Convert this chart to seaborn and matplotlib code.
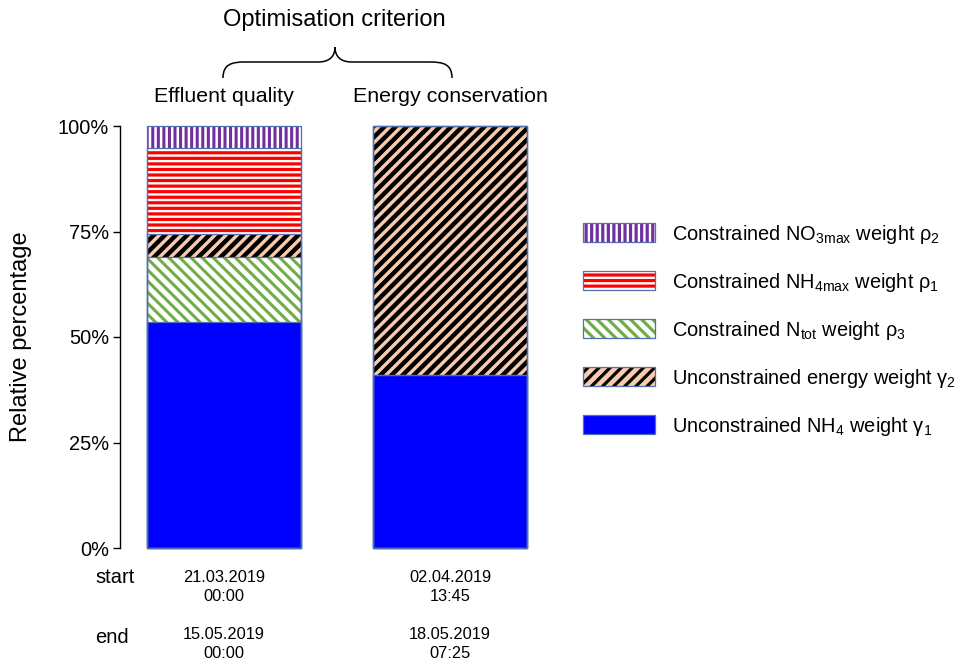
import numpy as np
import pandas as pd
import seaborn as sns
import matplotlib.pyplot as plt
from matplotlib.patches import Patch, Rectangle, PathPatch
from matplotlib.path import Path
from matplotlib.legend_handler import HandlerTuple

# Daten
criteria = ["Effluent quality", "Energy conservation"]
start_dates = ["21.03.2019", "02.04.2019"]
start_times = ["00:00", "13:45"]
end_dates = ["15.05.2019", "18.05.2019"]
end_times = ["00:00", "07:25"]

# Anteile in %, von unten nach oben gestapelt
nh4_w = [53.6, 41.0]
ntot_w = [15.4, 0.0]
energy_w = [5.4, 59.0]
nh4max_w = [20.4, 0.0]
no3max_w = [5.2, 0.0]

y_ticks = [0, 25, 50, 75, 100]

lab_nh4 = r"Unconstrained NH$_\mathregular{4}$ weight γ$_\mathregular{1}$"
lab_ntot = r"Constrained N$_\mathregular{tot}$ weight ρ$_\mathregular{3}$"
lab_energy = r"Unconstrained energy weight γ$_\mathregular{2}$"
lab_nh4max = r"Constrained NH$_\mathregular{4max}$ weight ρ$_\mathregular{1}$"
lab_no3max = r"Constrained NO$_\mathregular{3max}$ weight ρ$_\mathregular{2}$"

# Stil pro Segment (unten -> oben)
segments = [nh4_w, ntot_w, energy_w, nh4max_w, no3max_w]
seg_labels = [lab_nh4, lab_ntot, lab_energy, lab_nh4max, lab_no3max]
faces = ["#0000ff", "white", "#f8cbad", "white", "white"]
hatches = ["", "\\\\\\", "///", "---", "|||"]
hcolors = ["#0000ff", "#70ad47", "black", "#ff0000", "#7030a0"]
hatch_lw = [1.0, 2.2, 3.2, 2.3, 2.2]
edge = "#4f6fae"

sns.set_theme(style="white")
plt.rcParams["font.family"] = ["Liberation Sans", "DejaVu Sans"]
plt.rcParams["hatch.linewidth"] = 2.3
plt.rcParams["text.color"] = "black"
plt.rcParams["axes.labelcolor"] = "black"
plt.rcParams["ytick.color"] = "black"


def set_hlw(patch, lw):
    if hasattr(patch, "set_hatch_linewidth"):
        patch.set_hatch_linewidth(lw)
    return patch


fig = plt.figure(figsize=(9.72, 6.63), dpi=100)
ax = fig.add_axes([120 / 972, 115 / 663, 440 / 972, 422 / 663])

tops = np.cumsum(np.array(segments), axis=0)
df = pd.DataFrame({"criterion": criteria})

# gestapelte Balken: von oben nach unten überzeichnen
for i in reversed(range(len(segments))):
    df["top"] = tops[i]
    n_before = len(ax.patches)
    sns.barplot(data=df, x="criterion", y="top", color=faces[i], hatch=hatches[i],
                edgecolor=hcolors[i], linewidth=0, saturation=1, width=0.68,
                errorbar=None, ax=ax)
    for p in ax.patches[n_before:]:
        set_hlw(p, hatch_lw[i])

# Umrandungen
for p in list(ax.patches):
    ax.add_patch(Rectangle(p.get_xy(), p.get_width(), p.get_height(), fill=False,
                           edgecolor=edge, lw=0.9, clip_on=False))

ax.set_xlim(-0.46, 1.487)
ax.set_ylim(0, 100)
ax.set_yticks(y_ticks)
ax.set_yticklabels([f"{v}%" for v in y_ticks])
ax.set_xticks([])
ax.set_xlabel("")
ax.set_ylabel("Relative percentage", fontsize=17)
ax.yaxis.set_label_coords(-0.2, 0.5)
ax.tick_params(axis="y", left=True, length=5, width=1, color="black",
               labelsize=14.4, pad=3)
sns.despine(ax=ax, bottom=True)
ax.spines["left"].set_color("black")
ax.spines["left"].set_linewidth(1)

# Beschriftungen oben und unten
trans = ax.get_xaxis_transform()
for i, c in enumerate(criteria):
    ax.text(i, 1.069, c, transform=trans, ha="center", va="center", fontsize=15.4)
    ax.text(i, -0.071, start_dates[i], transform=trans, ha="center", va="center", fontsize=11.8)
    ax.text(i, -0.116, start_times[i], transform=trans, ha="center", va="center", fontsize=11.8)
    ax.text(i, -0.206, end_dates[i], transform=trans, ha="center", va="center", fontsize=11.8)
    ax.text(i, -0.249, end_times[i], transform=trans, ha="center", va="center", fontsize=11.8)
ax.text(-0.482, -0.071, "start", transform=trans, ha="center", va="center", fontsize=14.5)
ax.text(-0.496, -0.213, "end", transform=trans, ha="center", va="center", fontsize=14.5)
ax.text(0.49, 1.251, "Optimisation criterion", transform=trans, ha="center", va="center", fontsize=17)

# geschweifte Klammer
pts = [(223, 78), (223, 64), (232, 62), (245, 62), (318, 62), (330, 62), (335, 56), (335, 47),
       (335, 56), (340, 62), (352, 62), (430, 62), (443, 62), (452, 64), (452, 78)]
codes = [Path.MOVETO, Path.CURVE4, Path.CURVE4, Path.CURVE4, Path.LINETO,
         Path.CURVE4, Path.CURVE4, Path.CURVE4, Path.CURVE4, Path.CURVE4, Path.CURVE4,
         Path.LINETO, Path.CURVE4, Path.CURVE4, Path.CURVE4]
brace = Path([(x / 972, 1 - y / 663) for x, y in pts], codes)
fig.add_artist(PathPatch(brace, fill=False, edgecolor="black", lw=1.1,
                         transform=fig.transFigure))

# Legende
order = [4, 3, 1, 2, 0]
handles = [(set_hlw(Patch(facecolor=faces[i], hatch=hatches[i], edgecolor=hcolors[i], lw=0), hatch_lw[i]),
            Patch(fill=False, edgecolor=edge, lw=0.9)) for i in order]
ax.legend(handles=handles, labels=[seg_labels[i] for i in order],
          handler_map={tuple: HandlerTuple(ndivide=1, pad=0)},
          loc="center left", bbox_to_anchor=(583 / 972, 1 - 330 / 663),
          bbox_transform=fig.transFigure, frameon=False, borderpad=0, borderaxespad=0,
          fontsize=14.4, handlelength=3.6, handleheight=1.1, labelspacing=1.25,
          handletextpad=0.85)

plt.savefig("out.png", dpi=100)
